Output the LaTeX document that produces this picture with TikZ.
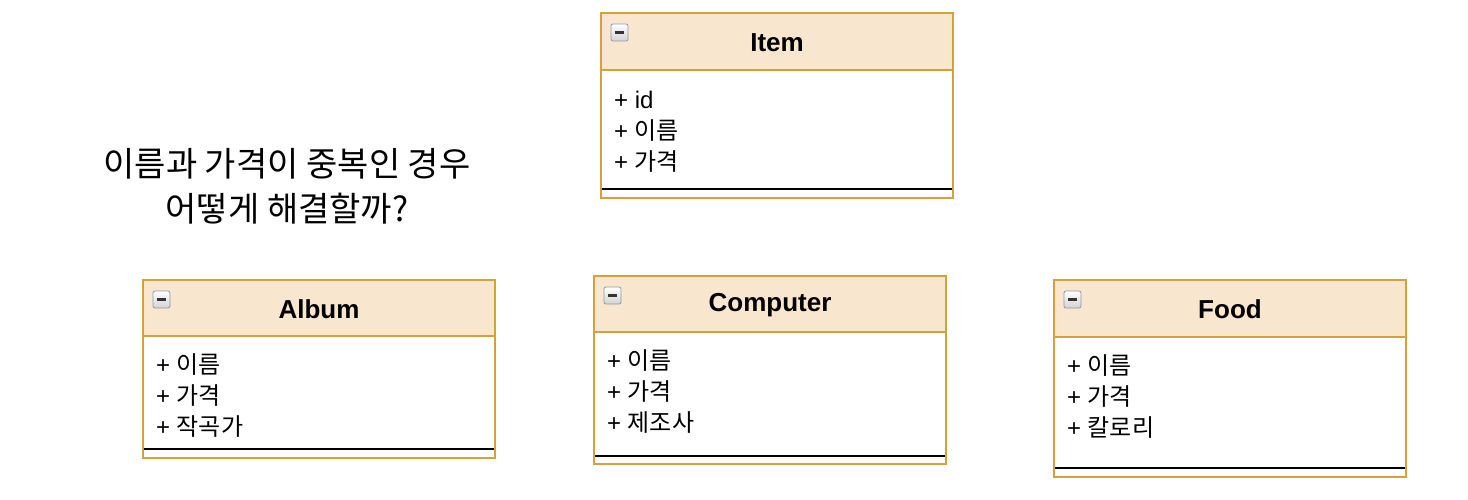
\documentclass[tikz,border=0pt]{standalone}
\usepackage{fontspec}
\setmainfont{Liberation Sans}
\newfontfamily\krfont{Noto Sans CJK KR}
\newcommand\kr[1]{{\krfont #1}}
\definecolor{hdrfill}{HTML}{F9E6CF}
\definecolor{hdrdraw}{HTML}{D6A13A}
\definecolor{icobord}{HTML}{8C9AAA}
\tikzset{
  classbody/.style={draw=hdrdraw, fill=white, line width=1.5pt},
  classhdr/.style={draw=hdrdraw, fill=hdrfill, line width=1.5pt},
  classtitle/.style={font=\fontsize{26}{30}\selectfont\bfseries, inner sep=0pt},
  attr/.style={font=\fontsize{24}{28}\selectfont, anchor=base west, inner sep=0pt},
  sepline/.style={draw=black, line width=2pt},
  icon/.style={draw=icobord, rounded corners=2pt, line width=0.8pt, top color=white, bottom color=gray!35},
  question/.style={font=\fontsize{34}{45}\selectfont\krfont, align=center, inner sep=0pt}
}
% #1 name, #2 x0, #3 y0, #4 x1, #5 header bottom, #6 sep line y, #7 y1, #8 title, #9 first baseline
\newcommand\umlclass[9]{%
  \draw[classbody] (#2,#3) rectangle (#4,#7);
  \draw[classhdr] (#2,#3) rectangle (#4,#5);
  \node[classtitle] (#1) at ({(#2+#4)/2},{(#3+#5)/2+1}) {#8};
  \draw[icon] ({#2+10},{#3+11}) rectangle ({#2+27},{#3+28});
  \draw[line width=2.4pt, black!80] ({#2+14},{#3+19.5}) -- ({#2+23},{#3+19.5});
  \draw[sepline] ({#2+1},#6) -- ({#4-1},#6);
  \coordinate (#1-a) at ({#2+13},#9);
}
\begin{document}
\begin{tikzpicture}[x=1pt,y=-1pt]
\useasboundingbox (0,0) rectangle (1468,500);
\fill[white] (0,0) rectangle (1468,500);

\umlclass{item}{601}{13}{953}{70}{189}{198}{Item}{109}
\node[attr] (item1) at (item-a) {+ id};
\node[attr] (item2) at ([yshift=-31pt]item1.base west) {+ \kr{이름}};
\node[attr] (item3) at ([yshift=-31pt]item2.base west) {+ \kr{가격}};

\umlclass{album}{143}{280}{495}{336}{449}{458}{Album}{373}
\node[attr] (album1) at (album-a) {+ \kr{이름}};
\node[attr] (album2) at ([yshift=-31pt]album1.base west) {+ \kr{가격}};
\node[attr] (album3) at ([yshift=-31pt]album2.base west) {+ \kr{작곡가}};

\umlclass{computer}{594}{276}{946}{332}{456}{464}{Computer}{369}
\node[attr] (comp1) at (computer-a) {+ \kr{이름}};
\node[attr] (comp2) at ([yshift=-31pt]comp1.base west) {+ \kr{가격}};
\node[attr] (comp3) at ([yshift=-31pt]comp2.base west) {+ \kr{제조사}};

\umlclass{food}{1054}{280}{1406}{337}{468}{477}{Food}{374}
\node[attr] (food1) at (food-a) {+ \kr{이름}};
\node[attr] (food2) at ([yshift=-31pt]food1.base west) {+ \kr{가격}};
\node[attr] (food3) at ([yshift=-31pt]food2.base west) {+ \kr{칼로리}};

\node[question] (q) at (287,186) {이름과 가격이 중복인 경우\\어떻게 해결할까?};
\end{tikzpicture}
\end{document}
